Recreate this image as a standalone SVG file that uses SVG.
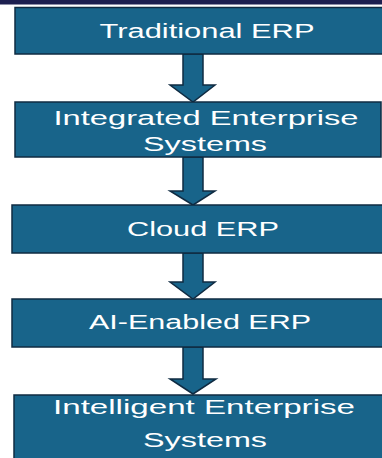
<svg xmlns="http://www.w3.org/2000/svg" width="382" height="458" viewBox="0 0 382 458">
<style>
.box{fill:#18648a;stroke:#0f2b42;stroke-width:1.5}
.arr{fill:#18648a;stroke:#0f2b42;stroke-width:1.5;stroke-linejoin:miter}
.t{fill:#ffffff;font-family:"Liberation Sans",Arial,sans-serif;font-size:19.5px;text-anchor:middle}
</style>
<rect x="0" y="0" width="382" height="458" fill="#ffffff"/>
<rect x="0" y="0" width="382" height="4.5" fill="#1d1f50"/>
<g id="connectors">
<polygon class="arr" points="183,54 203,54 203,85 215,85 193,102 170,85 183,85"/>
<polygon class="arr" points="183,157 203,157 203,191 215,191 193,205 170,191 183,191"/>
<polygon class="arr" points="183,253 203,253 203,282 215,282 193,299 170,282 183,282"/>
<polygon class="arr" points="183,347 203,347 203,379 216,379 193,394 170,379 183,379"/>
</g>
<g id="n1">
<rect class="box" x="15" y="7.5" width="370" height="46.5"/>
<text class="t" x="207" y="38" textLength="215" lengthAdjust="spacingAndGlyphs">Traditional ERP</text>
</g>
<g id="n2">
<rect class="box" x="15" y="102" width="366" height="55"/>
<text class="t" x="206" y="125" textLength="305" lengthAdjust="spacingAndGlyphs">Integrated Enterprise</text>
<text class="t" x="205" y="151" textLength="124" lengthAdjust="spacingAndGlyphs">Systems</text>
</g>
<g id="n3">
<rect class="box" x="12" y="205" width="372" height="48"/>
<text class="t" x="203" y="236" textLength="152" lengthAdjust="spacingAndGlyphs">Cloud ERP</text>
</g>
<g id="n4">
<rect class="box" x="12" y="299" width="372" height="48"/>
<text class="t" x="200" y="329" textLength="222" lengthAdjust="spacingAndGlyphs">AI-Enabled ERP</text>
</g>
<g id="n5">
<rect class="box" x="14" y="395" width="370" height="70"/>
<text class="t" x="204" y="414" textLength="302" lengthAdjust="spacingAndGlyphs">Intelligent Enterprise</text>
<text class="t" x="205" y="447" textLength="124" lengthAdjust="spacingAndGlyphs">Systems</text>
</g>
</svg>
